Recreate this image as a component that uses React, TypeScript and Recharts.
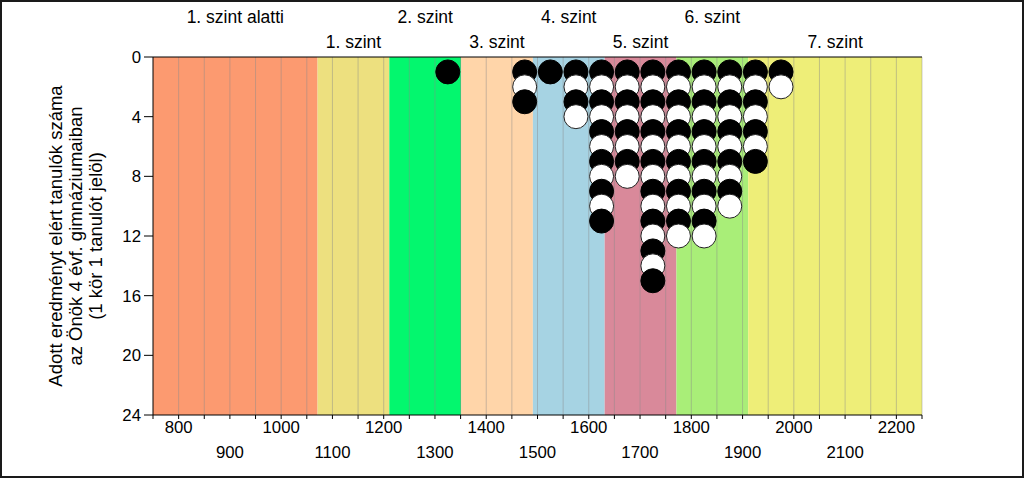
import React from "react";
import { ScatterChart, Scatter, XAxis, YAxis, ReferenceArea, ReferenceLine } from "recharts";

// competency levels (score bands)
const levelNames = ["1. szint alatti", "1. szint", "2. szint", "3. szint", "4. szint", "5. szint", "6. szint", "7. szint"];
const levelBounds = [750, 1071, 1211, 1351, 1491, 1631, 1771, 1911, 2250];
const levelColors = ["#FC9A70", "#EDE07F", "#03F76E", "#FFD5A9", "#A6D3E3", "#D9899A", "#A9EE78", "#EEEE78"];

// one circle per student, stacked in 50-point bins
const binCenters = [1325, 1475, 1525, 1575, 1625, 1675, 1725, 1775, 1825, 1875, 1925, 1975];
const studentCounts = [1, 3, 1, 4, 11, 8, 15, 12, 12, 10, 7, 2];

const xTicks = [
  750, 800, 850, 900, 950, 1000, 1050, 1100, 1150, 1200, 1250, 1300, 1350, 1400, 1450, 1500,
  1550, 1600, 1650, 1700, 1750, 1800, 1850, 1900, 1950, 2000, 2050, 2100, 2150, 2200, 2250,
];
const gridLines = xTicks.slice(1);
const xLabelsUpper = [800, 1000, 1200, 1400, 1600, 1800, 2000, 2200];
const xLabelsLower = [900, 1100, 1300, 1500, 1700, 1900, 2100];
const yTicks = [0, 4, 8, 12, 16, 20, 24];
const yTitle = ["Adott eredményt elért tanulók száma", "az Önök 4 évf. gimnáziumaiban", "(1 kör 1 tanulót jelöl)"];

const FONT = "'Liberation Sans', Arial, sans-serif";

// stacked top to bottom, each circle drawn over the one above it
const points = binCenters.flatMap((x, i) =>
  Array.from({ length: studentCounts[i] }, (_, k) => ({ x, y: k + 1, dark: k % 2 === 0 }))
);

function BottomTick({ x, y, payload }: any) {
  const v = payload.value;
  let dy = 0;
  if (xLabelsUpper.includes(v)) dy = 12;
  else if (xLabelsLower.includes(v)) dy = 37;
  else return <g />;
  return (
    <text x={x} y={y + dy} textAnchor="middle" fontSize={16.8} fill="#000" fontFamily={FONT}>
      {v}
    </text>
  );
}

function Dot(props: any) {
  const dark = props.payload?.dark ?? props.dark;
  return (
    <circle
      cx={props.cx}
      cy={props.cy}
      r={12}
      fill={dark ? "#000" : "#fff"}
      stroke={dark ? "#000" : "#222"}
      strokeWidth={1}
    />
  );
}

export default function App() {
  return (
    <div
      style={{
        position: "absolute",
        left: 0,
        top: 0,
        width: 1024,
        height: 478,
        boxSizing: "border-box",
        border: "2px solid #1a1a1a",
        background: "#fff",
        fontFamily: FONT,
      }}
    >
      <ScatterChart width={1020} height={474} margin={{ top: 0, right: 100, bottom: 0, left: 0 }}>
        <XAxis
          xAxisId="bottom"
          type="number"
          dataKey="x"
          domain={[750, 2250]}
          ticks={xTicks}
          interval={0}
          height={61}
          tickSize={4}
          tickMargin={2}
          axisLine={{ stroke: "#000" }}
          tickLine={{ stroke: "#000" }}
          tick={<BottomTick />}
          allowDataOverflow
        />
        <XAxis
          xAxisId="top"
          orientation="top"
          type="number"
          dataKey="x"
          domain={[750, 2250]}
          ticks={xTicks}
          interval={0}
          height={55}
          tickSize={4}
          axisLine={{ stroke: "#000" }}
          tickLine={{ stroke: "#000" }}
          tick={false}
          allowDataOverflow
        />
        <YAxis
          type="number"
          dataKey="y"
          reversed
          domain={[0, 24]}
          ticks={yTicks}
          interval={0}
          width={151}
          tickSize={9}
          tickMargin={3}
          axisLine={{ stroke: "#000" }}
          tickLine={{ stroke: "#000" }}
          tick={{ fill: "#000", fontSize: 16.8, fontFamily: FONT }}
          allowDataOverflow
          label={(props: any) => {
            const vb = props.viewBox;
            const cy = vb.y + vb.height / 2;
            return (
              <g>
                {yTitle.map((line, i) => {
                  const cx = vb.x + 53 + i * 20;
                  return (
                    <text
                      key={i}
                      x={cx}
                      y={cy}
                      transform={`rotate(-90, ${cx}, ${cy})`}
                      textAnchor="middle"
                      dominantBaseline="central"
                      fontSize={18.5}
                      fill="#000"
                      fontFamily={FONT}
                    >
                      {line}
                    </text>
                  );
                })}
              </g>
            );
          }}
        />
        {levelNames.map((name, i) => (
          <ReferenceArea
            key={name}
            xAxisId="bottom"
            x1={levelBounds[i]}
            x2={levelBounds[i + 1]}
            y1={0}
            y2={24}
            fill={levelColors[i]}
            fillOpacity={1}
            stroke="none"
            label={(props: any) => {
              const vb = props.viewBox;
              return (
                <text
                  x={vb.x + vb.width / 2}
                  y={vb.y - (i % 2 === 0 ? 34.5 : 9.5)}
                  textAnchor="middle"
                  fontSize={17.5}
                  fill="#000"
                  fontFamily={FONT}
                >
                  {name}
                </text>
              );
            }}
          />
        ))}
        {gridLines.map((v) => (
          <ReferenceLine key={v} xAxisId="bottom" x={v} stroke="#8a8a8a" strokeOpacity={0.45} strokeWidth={1} />
        ))}
        <Scatter xAxisId="bottom" data={points} shape={<Dot />} isAnimationActive={false} />
      </ScatterChart>
    </div>
  );
}
